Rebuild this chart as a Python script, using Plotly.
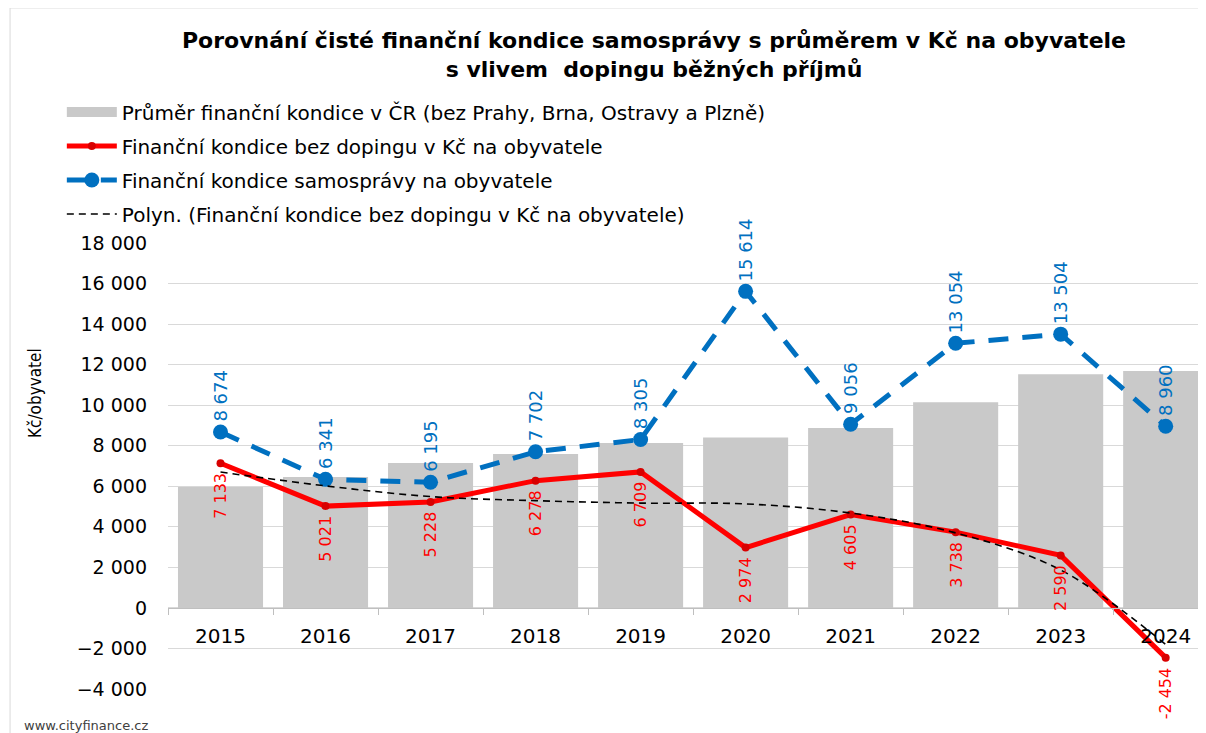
import plotly.graph_objects as go

years = ["2015", "2016", "2017", "2018", "2019", "2020", "2021", "2022", "2023", "2024"]
avg_cr = [5970, 6460, 7150, 7590, 8140, 8400, 8870, 10140, 11520, 11690]
bez_dopingu = [7133, 5021, 5228, 6278, 6709, 2974, 4605, 3738, 2590, -2454]
samosprava = [8674, 6341, 6195, 7702, 8305, 15614, 9056, 13054, 13504, 8960]
trend = [6700, 6020, 5490, 5290, 5170, 5130, 4680, 3700, 1870, -1800]

names = [
    "Průměr finanční kondice v ČR (bez Prahy, Brna, Ostravy a Plzně)",
    "Finanční kondice bez dopingu v Kč na obyvatele",
    "Finanční kondice samosprávy na obyvatele",
    "Polyn. (Finanční kondice bez dopingu v Kč na obyvatele)",
]
title_text = ("<b>Porovnání čisté finanční kondice samosprávy s průměrem v Kč na obyvatele</b><br>"
              "<b>s vlivem  dopingu běžných příjmů</b>")

FONT = "DejaVu Sans"
BLUE = "#0070C0"
RED = "#FF0000"
GRAY = "#C9C9C9"

def fmt(v):
    return f"{v:,}".replace(",", " ")

fig = go.Figure()
fig.add_trace(go.Bar(x=years, y=avg_cr, name=names[0], marker_color=GRAY,
                     marker_line_width=0, showlegend=False))
# legend entry for the bars (wide swatch like the original)
fig.add_trace(go.Scatter(x=[None], y=[None], name=names[0], mode="lines",
                         line=dict(color=GRAY, width=12),
                         legendgroup="a", legendrank=1))
fig.add_trace(go.Scatter(x=years, y=bez_dopingu, name=names[1], mode="lines+markers",
                         line=dict(color=RED, width=5),
                         marker=dict(color="#D80000", size=8),
                         legendgroup="b", legendrank=2))
fig.add_trace(go.Scatter(x=years, y=samosprava, name=names[2], mode="lines+markers",
                         line=dict(color=BLUE, width=5, dash="20px,14px"),
                         marker=dict(color=BLUE, size=15),
                         legendgroup="c", legendrank=3))
fig.add_trace(go.Scatter(x=years, y=trend, name=names[3], mode="lines",
                         line=dict(color="black", width=1.6, dash="7px,5px", shape="spline"),
                         legendgroup="d", legendrank=4))

annotations = []
for i, v in enumerate(samosprava):
    annotations.append(dict(x=i, y=v, xref="x", yref="y", text=fmt(v), showarrow=False,
                            textangle=-90, yanchor="bottom", xanchor="center", yshift=8,
                            font=dict(family=FONT, size=18, color=BLUE)))
for i, v in enumerate(bez_dopingu):
    annotations.append(dict(x=i, y=v, xref="x", yref="y", text=fmt(v), showarrow=False,
                            textangle=-90, yanchor="top", xanchor="center", yshift=-8,
                            font=dict(family=FONT, size=16, color=RED)))
annotations.append(dict(text="Kč/obyvatel", xref="paper", yref="paper",
                        x=-0.127, y=0.664, showarrow=False, textangle=-90,
                        xanchor="center", yanchor="middle",
                        font=dict(family="DejaVu Sans Condensed", size=17, color="black")))
annotations.append(dict(text="www.cityfinance.cz", xref="paper", yref="paper",
                        x=-0.1396, y=-0.081, showarrow=False,
                        xanchor="left", yanchor="middle",
                        font=dict(family=FONT, size=13, color="#404040")))

fig.update_layout(
    width=1206, height=733,
    margin=dict(l=160, r=0, t=235, b=52, autoexpand=False),
    paper_bgcolor="white", plot_bgcolor="white",
    font=dict(family=FONT, size=17, color="black"),
    separators=", ",
    title=dict(text=title_text, xref="container", x=646 / 1206, xanchor="center",
               yref="container", y=1 - 40 / 733, yanchor="top",
               font=dict(family=FONT, size=22, color="black")),
    bargap=0.19,
    showlegend=True,
    legend=dict(x=-0.1015, y=1.3375, xanchor="left", yanchor="top", orientation="v",
                itemwidth=50, tracegroupgap=5, traceorder="grouped",
                font=dict(family=FONT, size=20, color="black"),
                bgcolor="rgba(0,0,0,0)"),
    annotations=annotations,
    shapes=[dict(type="rect", xref="paper", yref="paper", x0=-0.151, x1=1.05,
                 y0=-0.3, y1=1.527, line=dict(color="#D9D9D9", width=1),
                 fillcolor="rgba(0,0,0,0)", layer="below")],
)
fig.update_xaxes(type="category", range=[-0.5, 9.46], anchor="free",
                 position=81 / 446, showline=True, linecolor="#BFBFBF", linewidth=1,
                 ticks="outside", tickson="boundaries", ticklen=6, tickcolor="#BFBFBF",
                 showgrid=False, tickfont=dict(family=FONT, size=20, color="black"),
                 ticklabelstandoff=10, automargin=False)
fig.update_yaxes(range=[-4000, 18000], dtick=2000, tickformat=",d",
                 showgrid=True, gridcolor="#D9D9D9", gridwidth=1,
                 zeroline=False, showline=False, ticks="",
                 ticklabelstandoff=20, automargin=False,
                 tickfont=dict(family=FONT, size=19, color="black"))

fig.write_html("out.html")
